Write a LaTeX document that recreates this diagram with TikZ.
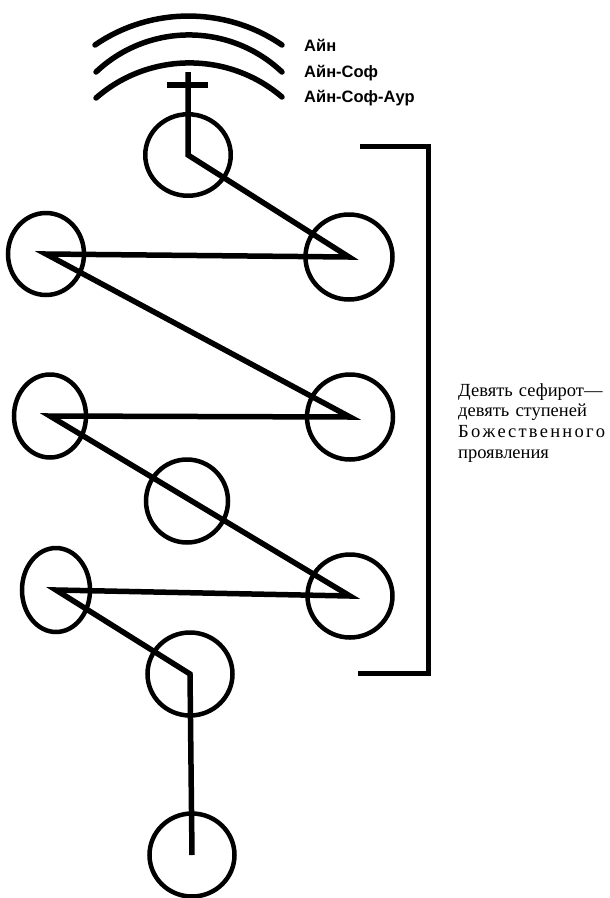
\documentclass[tikz,border=0pt]{standalone}
\usepackage{fontspec}
\usetikzlibrary{shapes.geometric}
\newfontfamily\lblfont{Liberation Sans}
\newfontfamily\descfont{Liberation Serif}
\begin{document}
\begin{tikzpicture}[x=1pt,y=-1pt,
  sef/.style={ellipse, draw, line width=4.5pt, inner sep=0pt},
  zig/.style={line width=5.5pt, line join=miter},
  halo/.style={line width=5.5pt, line cap=round},
  brk/.style={line width=5pt, line join=miter},
  lbl/.style={anchor=base west, inner sep=0pt, font=\lblfont\bfseries\fontsize{16.5}{18}\selectfont},
  desc/.style={anchor=north west, inner sep=0pt, text width=147pt, align=left,
    font=\descfont\fontsize{18.5}{20.7}\selectfont}]
\useasboundingbox (0,0) rectangle (610,898);
% arcs
\draw[halo] (95,45) .. controls (151,6.4) and (226,6.4) .. (282,45);
\draw[halo] (96,72) .. controls (148.3,22.6) and (229.7,22.6) .. (282,72);
\draw[halo] (96,98) .. controls (149.2,51.4) and (228.8,51.4) .. (282,97);
% labels
\node[lbl] (l1) at (304,51) {Айн};
\node[lbl] (l2) at (304,77) {Айн-Соф};
\node[lbl] (l3) at (304,102) {Айн-Соф-Аур};
% sefirot
\node[sef, minimum width=85.5pt, minimum height=81.5pt] (c1) at (188,155) {};
\node[sef, minimum width=87pt, minimum height=85pt] (c2) at (349,257) {};
\node[sef, minimum width=76pt, minimum height=82pt] (c3) at (46,254) {};
\node[sef, minimum width=86pt, minimum height=85pt] (c4) at (350,417) {};
\node[sef, minimum width=72pt, minimum height=83pt] (c5) at (50,416) {};
\node[sef, minimum width=82pt, minimum height=83pt] (c6) at (187,501) {};
\node[sef, minimum width=85pt, minimum height=83pt] (c7) at (350,596) {};
\node[sef, minimum width=68pt, minimum height=84pt] (c8) at (56,590) {};
\node[sef, minimum width=85pt, minimum height=83pt] (c9) at (190,674) {};
\node[sef, minimum width=85pt, minimum height=83pt] (c10) at (192,855) {};
% cross
\coordinate (top) at (188,72);
\coordinate (barL) at (167,85);
\coordinate (barR) at (208,85);
\draw[line width=5.5pt] (barL) -- (barR);
% lightning path
\draw[zig] (top) -- (c1.center) -- (c2.center) -- (c3.center) -- (c4.center)
  -- (c5.center) -- (c7.center) -- (c8.center) -- (c9.center) -- (c10.center);
% bracket
\coordinate (b1) at (360,146);
\coordinate (b2) at (428,146);
\coordinate (b3) at (428,673);
\coordinate (b4) at (358,673);
\draw[brk] (b1) -- (b2) -- (b3) -- (b4);
% description
\node[desc] (d) at (458,383) {\makebox[147pt][s]{Девять сефирот—}\\
\makebox[147pt][s]{девять ступеней}\\
\makebox[147pt][s]{Б\hfill о\hfill ж\hfill е\hfill с\hfill т\hfill в\hfill е\hfill н\hfill н\hfill о\hfill г\hfill о}\\
проявления};
\end{tikzpicture}
\end{document}
